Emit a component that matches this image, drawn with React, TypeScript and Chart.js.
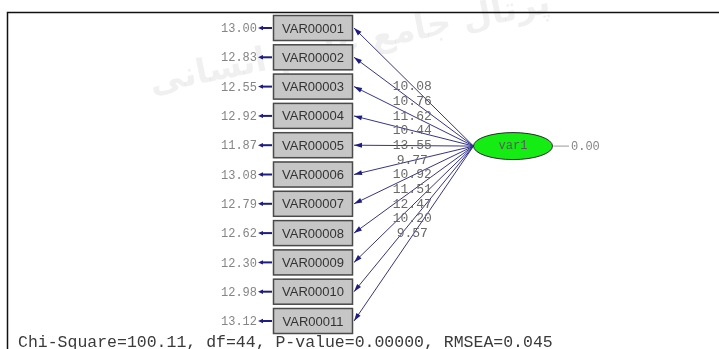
import React, { useEffect, useRef } from "react";
import { Chart, registerables } from "chart.js";

Chart.register(...registerables);

const categories = [
  "VAR00001", "VAR00002", "VAR00003", "VAR00004", "VAR00005", "VAR00006",
  "VAR00007", "VAR00008", "VAR00009", "VAR00010", "VAR00011",
];
const errorVariances = [13.0, 12.83, 12.55, 12.92, 11.87, 13.08, 12.79, 12.62, 12.3, 12.98, 13.12];
const loadings = [10.08, 10.76, 11.62, 10.44, 13.55, 9.77, 10.92, 11.51, 12.47, 10.2, 9.57];
const latentName = "var1";
const latentVariance = 0.0;
const fitText = "Chi-Square=100.11, df=44, P-value=0.00000, RMSEA=0.045";
const watermark = "پرتال جامع علوم انسانی";

const W = 719;
const H = 349;
const ROW = 29.3;
const Y_MIN = 1 - 28 / ROW;
const Y_MAX = Y_MIN + H / ROW;

const NAVY = "#1e1e82";
const MONO = "'Liberation Mono', 'DejaVu Sans Mono', monospace";

function arrowHead(ctx: CanvasRenderingContext2D, x1: number, y1: number, x2: number, y2: number, len: number, half: number) {
  const a = Math.atan2(y2 - y1, x2 - x1);
  ctx.beginPath();
  ctx.moveTo(x2, y2);
  ctx.lineTo(x2 - len * Math.cos(a) + half * Math.sin(a), y2 - len * Math.sin(a) - half * Math.cos(a));
  ctx.lineTo(x2 - len * Math.cos(a) - half * Math.sin(a), y2 - len * Math.sin(a) + half * Math.cos(a));
  ctx.closePath();
  ctx.fill();
}

const diagramPlugin = {
  id: "pathDiagram",
  beforeDraw(chart: any) {
    const ctx: CanvasRenderingContext2D = chart.ctx;
    const xs = chart.scales.x;
    const ys = chart.scales.y;
    const px = (v: number) => xs.getPixelForValue(v);
    const py = (v: number) => ys.getPixelForValue(v);
    ctx.save();
    ctx.fillStyle = "#ffffff";
    ctx.fillRect(0, 0, chart.width, chart.height);

    // watermark
    ctx.save();
    ctx.translate(px(350), py(1.55));
    ctx.rotate(-0.2);
    ctx.font = "bold 34px 'DejaVu Sans', sans-serif";
    ctx.fillStyle = "rgba(0,0,0,0.06)";
    ctx.textAlign = "center";
    ctx.textBaseline = "middle";
    ctx.fillText(watermark, 0, 0);
    ctx.restore();

    // frame
    ctx.strokeStyle = "#111";
    ctx.lineWidth = 1.5;
    ctx.beginPath();
    ctx.moveTo(px(7.5), H);
    ctx.lineTo(px(7.5), 12.5);
    ctx.lineTo(W, 12.5);
    ctx.stroke();

    const boxL = px(273), boxR = px(353), boxH = 26;
    const latX = px(513), latY = py(5.03);
    const rx = 39.5, ry = 13.5;
    const srcX = latX - rx;

    // loading paths
    categories.forEach((_, i) => {
      const by = py(i + 1);
      ctx.strokeStyle = "#34348e";
      ctx.lineWidth = 1;
      ctx.beginPath();
      ctx.moveTo(srcX, latY);
      ctx.lineTo(boxR + 1, by);
      ctx.stroke();
      ctx.fillStyle = NAVY;
      arrowHead(ctx, srcX, latY, boxR + 1, by, 8, 2.5);
    });

    // loading labels
    ctx.font = `13px ${MONO}`;
    ctx.fillStyle = "#6a6a6a";
    ctx.textAlign = "center";
    ctx.textBaseline = "middle";
    loadings.forEach((v, i) => {
      const by = py(i + 1);
      const mx = (srcX + boxR) / 2 - 1;
      const my = (latY + by) / 2;
      ctx.fillText(v.toFixed(2), mx, my);
    });

    // boxes
    categories.forEach((name, i) => {
      const by = py(i + 1);
      ctx.fillStyle = "#c6c6c6";
      ctx.fillRect(boxL, by - boxH / 2, boxR - boxL, boxH);
      ctx.strokeStyle = "#4a4a4a";
      ctx.lineWidth = 1.5;
      ctx.strokeRect(boxL + 0.5, by - boxH / 2 + 0.5, boxR - boxL - 1, boxH - 1);
      ctx.fillStyle = "#333";
      ctx.font = "13px 'Liberation Sans', Arial, sans-serif";
      ctx.textAlign = "center";
      ctx.textBaseline = "middle";
      ctx.fillText(name, (boxL + boxR) / 2, by + 1);

      // error arrow
      ctx.strokeStyle = NAVY;
      ctx.lineWidth = 2;
      ctx.beginPath();
      ctx.moveTo(boxL - 1, by);
      ctx.lineTo(px(261), by);
      ctx.stroke();
      ctx.fillStyle = NAVY;
      arrowHead(ctx, boxL, by, px(258), by, 5, 2.2);
    });

    // error labels
    ctx.font = `12px ${MONO}`;
    ctx.fillStyle = "#858585";
    ctx.textAlign = "right";
    ctx.textBaseline = "middle";
    errorVariances.forEach((v, i) => {
      ctx.fillText(v.toFixed(2), px(257), py(i + 1) + 1);
    });

    // latent ellipse
    ctx.beginPath();
    ctx.ellipse(latX, latY, rx, ry, 0, 0, Math.PI * 2);
    ctx.fillStyle = "#14ec14";
    ctx.fill();
    ctx.strokeStyle = "#2a2a2a";
    ctx.lineWidth = 1;
    ctx.stroke();
    ctx.font = `12px ${MONO}`;
    ctx.fillStyle = "#5a5a5a";
    ctx.textAlign = "center";
    ctx.fillText(latentName, latX, latY);

    // latent variance
    ctx.strokeStyle = "#999";
    ctx.lineWidth = 1;
    ctx.beginPath();
    ctx.moveTo(latX + rx + 1, latY);
    ctx.lineTo(px(569), latY);
    ctx.stroke();
    ctx.fillStyle = "#858585";
    ctx.textAlign = "left";
    ctx.fillText(latentVariance.toFixed(2), px(571), latY + 1);

    // fit statistics
    ctx.font = `16.5px ${MONO}`;
    ctx.fillStyle = "#3a3a3a";
    ctx.textAlign = "left";
    ctx.fillText(fitText, px(18), 343);
    ctx.restore();
  },
};

export default function App() {
  const ref = useRef<HTMLCanvasElement | null>(null);
  useEffect(() => {
    if (!ref.current) return;
    const chart = new Chart(ref.current, {
      type: "scatter",
      data: { datasets: [{ data: [], pointRadius: 0 }] },
      options: {
        animation: false,
        responsive: false,
        events: [],
        layout: { padding: 0, autoPadding: false } as any,
        plugins: { legend: { display: false }, tooltip: { enabled: false } },
        scales: {
          x: { type: "linear", min: 0, max: W, display: false },
          y: { type: "linear", min: Y_MIN, max: Y_MAX, reverse: true, display: false },
        },
      },
      plugins: [diagramPlugin],
    });
    return () => chart.destroy();
  }, []);
  return (
    <div style={{ position: "fixed", left: 0, top: 0, width: W, height: H, background: "#fff" }}>
      <canvas ref={ref} width={W} height={H} style={{ display: "block", width: W, height: H }} />
    </div>
  );
}
